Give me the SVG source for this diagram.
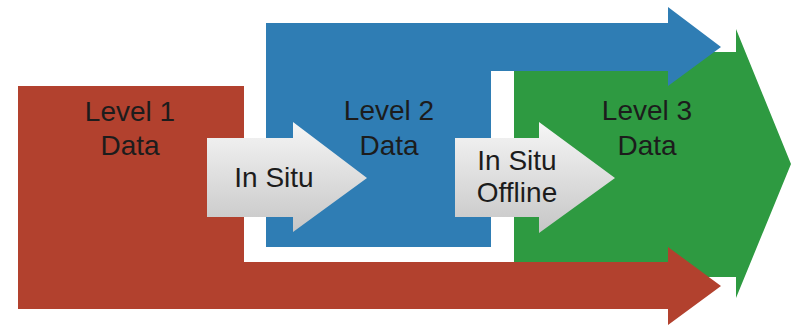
<svg xmlns="http://www.w3.org/2000/svg" width="793" height="328" viewBox="0 0 793 328">
  <defs>
    <linearGradient id="grayFill" x1="0" y1="0" x2="0" y2="1">
      <stop offset="0" stop-color="#f6f6f6"/>
      <stop offset="1" stop-color="#c6c6c6"/>
    </linearGradient>
  </defs>
  <style>
    .label { font-family: "Liberation Sans", Arial, sans-serif; font-size: 28px; fill: #1c1c1c; text-anchor: middle; }
    .red { fill: #b2412e; }
    .blue { fill: #2f7db4; }
    .green { fill: #2e9a41; }
    .flow { fill: url(#grayFill); }
  </style>
  <rect width="793" height="328" fill="#ffffff"/>

  <!-- Level 3: green block with wide arrowhead (lowest layer) -->
  <g id="level3">
    <path class="green" d="M514,52 H736 V29 L791,164 L736,298 V277 H514 Z"/>
    <text class="label" x="647" y="120">Level 3</text>
    <text class="label" x="647" y="155">Data</text>
  </g>

  <!-- Level 2: blue block with top band arrow -->
  <g id="level2">
    <path class="blue" d="M266,23 H668 V7 L721,47 L668,86 V71 H491 V247 H266 Z"/>
    <text class="label" x="389" y="120">Level 2</text>
    <text class="label" x="389" y="155">Data</text>
  </g>

  <!-- Level 1: red block with bottom band arrow -->
  <g id="level1">
    <path class="red" d="M18,86 H244 V262 H668 V247 L721,286 L668,325 V309 H18 Z"/>
    <text class="label" x="130" y="121">Level 1</text>
    <text class="label" x="130" y="155">Data</text>
  </g>

  <!-- Processing arrows between levels -->
  <g id="connectors">
    <g id="in-situ">
      <path class="flow" d="M207,138 H293 V122 L367,178 L293,232 V217 H207 Z"/>
      <text class="label" x="274" y="187">In Situ</text>
    </g>
    <g id="in-situ-offline">
      <path class="flow" d="M455,138 H539 V122 L615,178 L539,233 V217 H455 Z"/>
      <text class="label" x="517" y="170">In Situ</text>
      <text class="label" x="517" y="202">Offline</text>
    </g>
  </g>
</svg>
